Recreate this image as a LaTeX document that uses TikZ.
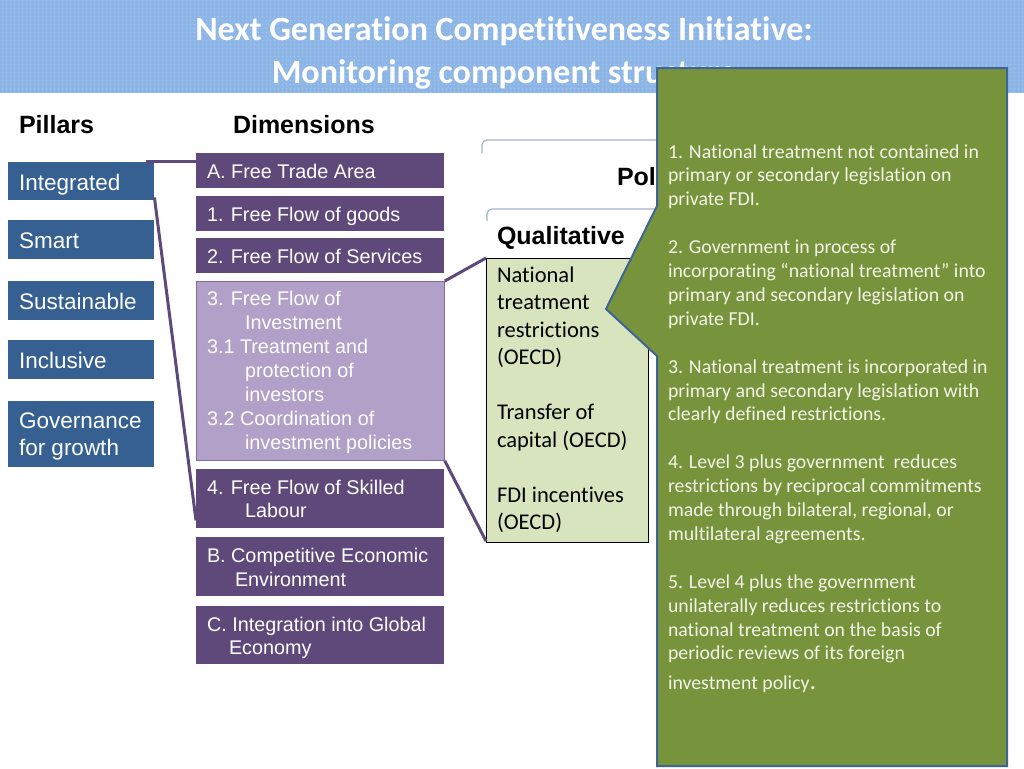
\documentclass[tikz,border=0pt]{standalone}
\usepackage{fontspec}
\setmainfont{Liberation Sans}
\newfontfamily\calfont{Carlito}[Ligatures={NoCommon,NoRequired,NoContextual}]
\usetikzlibrary{patterns.meta}
\definecolor{pilblue}{RGB}{54,96,146}
\definecolor{dimpurple}{RGB}{95,73,122}
\definecolor{lightpurple}{RGB}{177,160,199}
\definecolor{lpborder}{RGB}{128,106,159}
\definecolor{qualgreen}{RGB}{215,228,189}
\definecolor{callgreen}{RGB}{119,147,60}
\definecolor{callborder}{RGB}{62,100,150}
\definecolor{calltext}{RGB}{243,244,232}
\definecolor{bannerblue}{RGB}{141,182,230}
\definecolor{bannerdot}{RGB}{168,200,240}
\definecolor{brkcolor}{RGB}{160,181,206}
\newcommand\mylines[2]{\vtop{\baselineskip=#1\lineskiplimit=-\maxdimen\lineskip=0pt #2}}
\tikzset{
  txt/.style={anchor=base west, inner sep=0pt, outer sep=0pt},
  pil/.style={fill=pilblue, draw=none, anchor=north west, minimum width=146pt, inner sep=0pt},
  dimbox/.style={fill=dimpurple, draw=none, anchor=north west, minimum width=248pt, inner sep=0pt},
  pilfont/.style={txt, text=white, font=\fontsize{22.5}{27}\selectfont},
  dimfont/.style={txt, text=white, font=\fontsize{19.8}{24}\selectfont},
  headfont/.style={txt, text=black, font=\bfseries\fontsize{25}{30}\selectfont},
  conn/.style={draw=dimpurple, line width=3pt},
  brk/.style={draw=brkcolor, line width=1.2pt, rounded corners=5pt},
  titlefont/.style={anchor=base, inner sep=0pt, text=white, font=\calfont\bfseries\fontsize{34}{41}\selectfont}
}
\begin{document}
\begin{tikzpicture}[x=1pt,y=-1pt]
\useasboundingbox (0,0) rectangle (1024,768);
\fill[white] (0,0) rectangle (1024,768);
% banner
\fill[bannerblue] (0,0) rectangle (1024,93);
\fill[pattern={Dots[distance=4pt,radius=0.8pt]}, pattern color=bannerdot] (0,0) rectangle (1024,93);
\node[titlefont] (title1) at (504,41) {Next Generation Competitiveness Initiative:};
\node[titlefont] (title2) at (504,83) {Monitoring component structure};
% headers
\node[headfont] (hpil) at (19,133) {Pillars};
\node[headfont] (hdim) at (233,133) {Dimensions};
% pillars
\node[pil, minimum height=38pt] (int) at (8,162) {};
\node[pil, minimum height=39pt] (smart) at (8,220) {};
\node[pil, minimum height=39pt] (sust) at (8,281) {};
\node[pil, minimum height=39pt] (incl) at (8,340) {};
\node[pil, minimum height=66pt] (gov) at (8,401) {};
\node[pilfont] (tint) at (19,190) {Integrated};
\node[pilfont] (tsmart) at (19,248) {Smart};
\node[pilfont] (tsust) at (19,309) {Sustainable};
\node[pilfont] (tincl) at (19,368) {Inclusive};
\node[pilfont] (tgov) at (19,428) {\mylines{27pt}{\hbox{Governance}\hbox{for growth}}};
% dimensions
\node[dimbox, minimum height=35pt] (dA) at (196,153) {};
\node[dimbox, minimum height=35pt] (d1) at (196,196) {};
\node[dimbox, minimum height=35pt] (d2) at (196,238) {};
\node[dimbox, fill=lightpurple, draw=lpborder, line width=0.8pt, minimum height=179pt] (d3) at (196,281) {};
\node[dimbox, minimum height=59pt] (d4) at (196,469) {};
\node[dimbox, minimum height=59pt] (dB) at (196,537) {};
\node[dimbox, minimum height=58pt] (dC) at (196,606) {};
\node[dimfont] (tA) at (207,178) {A. Free Trade Area};
\node[dimfont] (t1) at (207,221) {1. Free Flow of goods};
\node[dimfont] (t2) at (207,263) {2. Free Flow of Services};
\node[dimfont] (t3) at (207,305) {\mylines{24pt}{%
  \hbox{3. Free Flow of}\hbox{\kern38pt Investment}%
  \hbox{3.1 Treatment and}\hbox{\kern38pt protection of}\hbox{\kern38pt investors}%
  \hbox{3.2 Coordination of}\hbox{\kern38pt investment policies}}};
\node[dimfont] (t4) at (207,494) {\mylines{23.5pt}{\hbox{4. Free Flow of Skilled}\hbox{\kern38pt Labour}}};
\node[dimfont] (tB) at (207,562) {\mylines{24pt}{\hbox{B. Competitive Economic}\hbox{\kern28pt Environment}}};
\node[dimfont] (tC) at (207,631) {\mylines{23.5pt}{\hbox{C. Integration into Global}\hbox{\kern22pt Economy}}};
% qualitative box
\node[anchor=north west, fill=qualgreen, draw=black, line width=1.2pt, minimum width=162pt, minimum height=284pt, inner sep=0pt] (qual) at (486,258) {};
\node[txt, font=\calfont\fontsize{22.5}{27.5}\selectfont] (tqual) at (497,282) {\mylines{27.5pt}{%
  \hbox{National}\hbox{treatment}\hbox{restrictions}\hbox{(OECD)}\hbox{}%
  \hbox{Transfer of}\hbox{capital (OECD)}\hbox{}%
  \hbox{FDI incentives}\hbox{(OECD)}}};
% connectors
\draw[conn] ([xshift=-8pt,yshift=1pt]int.north east) -- ([yshift=-8pt]dA.north west);
\draw[conn] ([yshift=3pt]int.south east) -- ([yshift=8pt]d4.south west);
\draw[conn] (d3.north east) -- (qual.north west);
\draw[conn] (d3.south east) -- ([yshift=2pt]qual.south west);
% brackets and headings
\draw[brk] (482,153) -- (482,140) -- (700,140);
\draw[brk] (487,221) -- (487,209) -- (700,209);
\node[headfont] (hqual) at (497,244) {Qualitative};
\node[headfont] (hpol) at (617,185) {Pol};
% callout
\coordinate (c1) at (657,68);
\coordinate (c2) at (1007,68);
\coordinate (c3) at (1007,766);
\coordinate (c4) at (657,766);
\coordinate (c5) at (657,356);
\coordinate (ctip) at (606,309);
\coordinate (c6) at (657,206);
\filldraw[fill=callgreen, draw=callborder, line width=2pt, line join=miter] (c1) -- (c2) -- (c3) -- (c4) -- (c5) -- (ctip) -- (c6) -- cycle;
\node[txt, text=calltext, font=\calfont\fontsize{19.8}{23.9}\selectfont] (tcall) at (668,158) {\mylines{23.9pt}{%
  \hbox{1. National treatment not contained in}%
  \hbox{primary or secondary legislation on}%
  \hbox{private FDI.}\hbox{}%
  \hbox{2. Government in process of}%
  \hbox{incorporating “national treatment” into}%
  \hbox{primary and secondary legislation on}%
  \hbox{private FDI.}\hbox{}%
  \hbox{3. National treatment is incorporated in}%
  \hbox{primary and secondary legislation with}%
  \hbox{clearly defined restrictions.}\hbox{}%
  \hbox{4. Level 3 plus government\ \ reduces}%
  \hbox{restrictions by reciprocal commitments}%
  \hbox{made through bilateral, regional, or}%
  \hbox{multilateral agreements.}\hbox{}%
  \hbox{5. Level 4 plus the government}%
  \hbox{unilaterally reduces restrictions to}%
  \hbox{national treatment on the basis of}%
  \hbox{periodic reviews of its foreign}%
  \vskip6pt\hbox{investment policy{\fontsize{26}{26}\selectfont.}}}};
\end{tikzpicture}
\end{document}
